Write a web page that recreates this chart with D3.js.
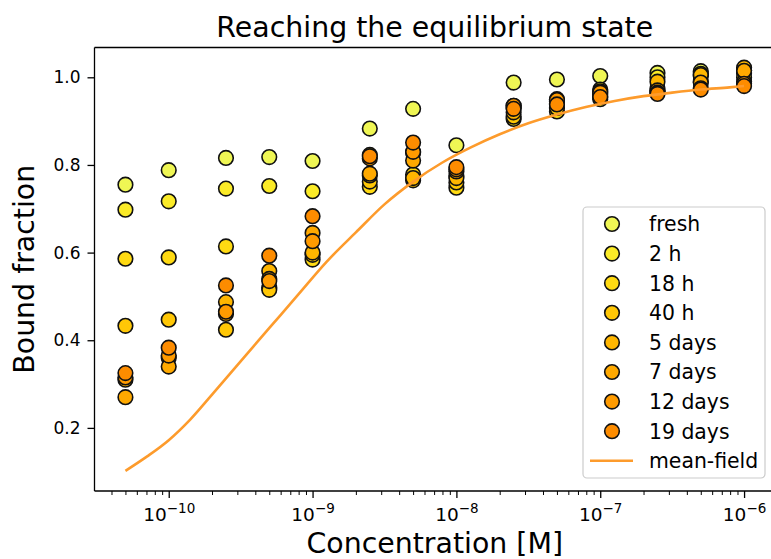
<!DOCTYPE html>
<html>
<head>
<meta charset="utf-8">
<script src="https://cdn.jsdelivr.net/npm/d3@7/dist/d3.min.js"></script>
<style>
  html, body { margin: 0; padding: 0; background: #fff; }
  svg { display: block; font-family: "DejaVu Sans", sans-serif; }
</style>
</head>
<body>
<svg id="chart" width="771" height="559"></svg>
<script>
// ---------------- data ----------------
const concentrations = [5e-11, 1e-10, 2.5e-10, 5e-10, 1e-9, 2.5e-9, 5e-9, 1e-8, 2.5e-8, 5e-8, 1e-7, 2.5e-7, 5e-7, 1e-6];
const seriesNames = ["fresh", "2 h", "18 h", "40 h", "5 days", "7 days", "12 days", "19 days"];
const seriesColors = ["#eff654", "#fbeb28", "#ffda12", "#ffc706", "#ffb600", "#ffa900", "#ff9b00", "#fd8c00"];
const freshValues = [0.755, 0.788, 0.816, 0.818, 0.809, 0.883, 0.928, 0.845, 0.988, 0.995, 1.003, 1.010, 1.014, 1.015];
const h2Values    = [0.698, 0.717, 0.746, 0.752, 0.740, 0.823, 0.828, 0.775, 0.935, 0.950, 0.972, 1.000, 1.008, 1.010];
const h18Values   = [0.586, 0.589, 0.614, 0.520, 0.584, 0.750, 0.778, 0.748, 0.905, 0.922, 0.950, 0.975, 1.003, 1.000];
const h40Values   = [0.433, 0.447, 0.424, 0.515, 0.595, 0.762, 0.765, 0.760, 0.910, 0.930, 0.955, 0.968, 0.990, 0.990];
const d5Values    = [0.310, 0.360, 0.487, 0.558, 0.600, 0.776, 0.770, 0.770, 0.920, 0.945, 0.960, 0.990, 1.005, 1.022];
const d7Values    = [0.270, 0.340, 0.460, 0.540, 0.645, 0.780, 0.810, 0.785, 0.930, 0.940, 0.968, 0.970, 0.988, 1.015];
const d12Values   = [0.315, 0.365, 0.465, 0.535, 0.626, 0.815, 0.830, 0.790, 0.935, 0.948, 0.965, 0.965, 0.975, 0.985];
const d19Values   = [0.325, 0.383, 0.525, 0.593, 0.683, 0.820, 0.851, 0.795, 0.928, 0.938, 0.955, 0.962, 0.972, 0.980];
const seriesValues = [freshValues, h2Values, h18Values, h40Values, d5Values, d7Values, d12Values, d19Values];

const meanFieldConc = [5e-11, 7.08e-11, 1e-10, 1.41e-10, 2e-10, 3.16e-10, 5.01e-10, 7.94e-10, 1.26e-9, 2e-9, 3.16e-9, 5.01e-9,
                       7.94e-9, 1.26e-8, 2e-8, 3.16e-8, 5.01e-8, 7.94e-8, 1.26e-7, 2e-7, 3.16e-7, 5.01e-7, 7.94e-7, 1e-6];
const meanFieldValues = [0.102, 0.135, 0.172, 0.219, 0.276, 0.352, 0.428, 0.504, 0.580, 0.646, 0.710, 0.762,
                         0.805, 0.840, 0.870, 0.895, 0.915, 0.932, 0.946, 0.957, 0.965, 0.972, 0.977, 0.980];
const meanFieldColor = "#fd9b2c";

const xTickValues = [1e-10, 1e-9, 1e-8, 1e-7, 1e-6];
const xTickExponents = ["\u221210", "\u22129", "\u22128", "\u22127", "\u22126"];
const yTickValues = [0.2, 0.4, 0.6, 0.8, 1.0];
const yTickLabels = ["0.2", "0.4", "0.6", "0.8", "1.0"];

// ---------------- layout ----------------
const svg = d3.select("#chart");
const plot = { left: 94.5, right: 775, top: 47.5, bottom: 491 };
const FONT = "DejaVu Sans, sans-serif";

// matplotlib-like 5% margins
const lx = d3.extent(concentrations.concat(meanFieldConc), d => Math.log10(d));
const mx = (lx[1] - lx[0]) * 0.05;
const allY = seriesValues.flat().concat(meanFieldValues);
const ly = d3.extent(allY);
const my = (ly[1] - ly[0]) * 0.05;

const x = d3.scaleLog().domain([Math.pow(10, lx[0] - mx), Math.pow(10, lx[1] + mx)]).range([plot.left, plot.right]);
const y = d3.scaleLinear().domain([ly[0] - my, ly[1] + my]).range([plot.bottom, plot.top]);

svg.append("defs").append("clipPath").attr("id", "clip")
  .append("rect").attr("x", plot.left).attr("y", plot.top)
  .attr("width", plot.right - plot.left).attr("height", plot.bottom - plot.top);

// ---------------- axes ----------------
const minorTicks = [];
for (let e = -11; e <= -6; e++) for (let m = 2; m <= 9; m++) {
  const v = m * Math.pow(10, e);
  if (v >= x.domain()[0] && v <= x.domain()[1]) minorTicks.push(v);
}
const xMinor = svg.append("g").attr("transform", `translate(0,${plot.bottom})`)
  .call(d3.axisBottom(x).tickValues(minorTicks).tickFormat("").tickSize(4).tickSizeOuter(0));
xMinor.select(".domain").remove();
xMinor.selectAll("text").remove();
xMinor.selectAll("line").attr("stroke", "#000").attr("stroke-width", 1);

const xMajor = svg.append("g").attr("transform", `translate(0,${plot.bottom})`)
  .call(d3.axisBottom(x).tickValues(xTickValues).tickFormat("").tickSize(7).tickSizeOuter(0));
xMajor.select(".domain").remove();
xMajor.selectAll("text").remove();
xMajor.attr("font-family", FONT).attr("font-size", null);
xMajor.selectAll("line").attr("stroke", "#000").attr("stroke-width", 1.3);
xMajor.selectAll(".tick").each(function(d, i) {
  const t = d3.select(this).append("text")
    .attr("y", 29.5).attr("fill", "#000").attr("font-family", FONT)
    .style("font-size", "18.5px").attr("text-anchor", "middle");
  t.append("tspan").style("font-size", "18.5px").text("10");
  t.append("tspan").attr("dy", -8).style("font-size", "13.5px").text(xTickExponents[i]);
});

const yAxis = svg.append("g").attr("transform", `translate(${plot.left},0)`)
  .call(d3.axisLeft(y).tickValues(yTickValues).tickFormat((d, i) => yTickLabels[i]).tickSize(7).tickSizeOuter(0).tickPadding(7));
yAxis.select(".domain").remove();
yAxis.attr("font-family", FONT);
yAxis.selectAll("line").attr("stroke", "#000").attr("stroke-width", 1.3);
yAxis.selectAll("text").attr("font-size", "17px").attr("fill", "#000").attr("font-family", FONT);

// spines
const spines = svg.append("g").attr("stroke", "#000").attr("stroke-width", 1.3).attr("fill", "none");
spines.append("line").attr("x1", plot.left).attr("x2", plot.right).attr("y1", plot.bottom).attr("y2", plot.bottom);
spines.append("line").attr("x1", plot.left).attr("x2", plot.right).attr("y1", plot.top).attr("y2", plot.top);
spines.append("line").attr("x1", plot.left).attr("x2", plot.left).attr("y1", plot.top).attr("y2", plot.bottom);
spines.append("line").attr("x1", plot.right).attr("x2", plot.right).attr("y1", plot.top).attr("y2", plot.bottom);

// ---------------- marks ----------------
const marks = svg.append("g").attr("clip-path", "url(#clip)");
seriesValues.forEach((vals, si) => {
  marks.append("g").selectAll("circle")
    .data(vals.map((v, i) => ({ c: concentrations[i], v })))
    .join("circle")
    .attr("cx", d => x(d.c))
    .attr("cy", d => y(d.v))
    .attr("r", 7.3)
    .attr("fill", seriesColors[si])
    .attr("stroke", "#111")
    .attr("stroke-width", 1.6);
});

const line = d3.line().x(d => x(d[0])).y(d => y(d[1])).curve(d3.curveMonotoneX);
marks.append("path")
  .datum(meanFieldConc.map((c, i) => [c, meanFieldValues[i]]))
  .attr("d", line)
  .attr("fill", "none")
  .attr("stroke", meanFieldColor)
  .attr("stroke-width", 2.6);

// ---------------- labels ----------------
svg.append("text").attr("x", (plot.left + plot.right) / 2).attr("y", 36.5)
  .attr("text-anchor", "middle").attr("font-size", "28.4px").attr("fill", "#000")
  .text("Reaching the equilibrium state");
svg.append("text").attr("x", (plot.left + plot.right) / 2).attr("y", 553)
  .attr("text-anchor", "middle").attr("font-size", "28.4px").attr("fill", "#000")
  .text("Concentration [M]");
svg.append("text")
  .attr("transform", `translate(34,${(plot.top + plot.bottom) / 2}) rotate(-90)`)
  .attr("text-anchor", "middle").attr("font-size", "28.4px").attr("fill", "#000")
  .text("Bound fraction");

// ---------------- legend ----------------
const lg = svg.append("g");
const legendBox = { x: 583, y: 207, w: 182, h: 271 };
lg.append("rect").attr("x", legendBox.x).attr("y", legendBox.y)
  .attr("width", legendBox.w).attr("height", legendBox.h)
  .attr("rx", 4).attr("fill", "#fff").attr("fill-opacity", 0.8)
  .attr("stroke", "#cccccc").attr("stroke-width", 1.2);
const rowY = i => 224 + i * 29.6;
const legendEntries = seriesNames.concat(["mean-field"]);
legendEntries.forEach((name, i) => {
  if (i < seriesNames.length) {
    lg.append("circle").attr("cx", 612).attr("cy", rowY(i)).attr("r", 7.3)
      .attr("fill", seriesColors[i]).attr("stroke", "#111").attr("stroke-width", 1.6);
  } else {
    lg.append("line").attr("x1", 590).attr("x2", 633).attr("y1", rowY(i)).attr("y2", rowY(i))
      .attr("stroke", meanFieldColor).attr("stroke-width", 2.6);
  }
  lg.append("text").attr("x", 649).attr("y", rowY(i) + 7.3)
    .attr("font-size", "20.4px").attr("fill", "#000").text(name);
});
</script>
</body>
</html>
